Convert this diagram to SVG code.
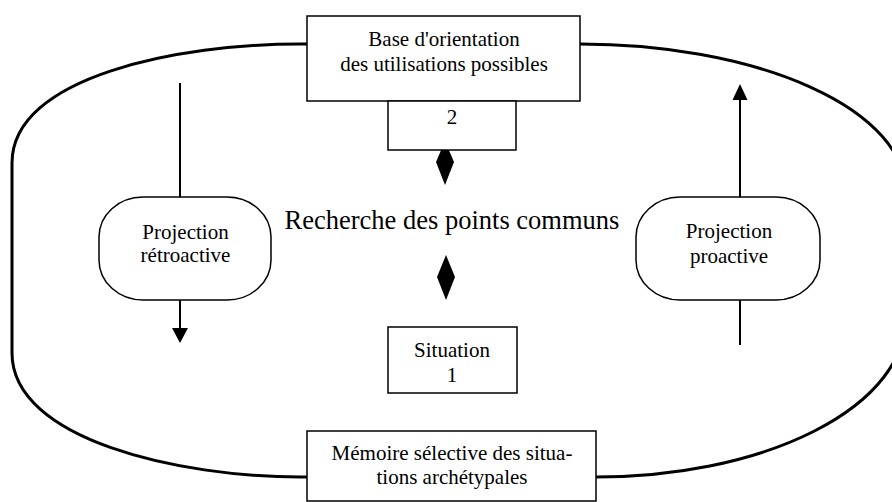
<svg xmlns="http://www.w3.org/2000/svg" width="892" height="502" viewBox="0 0 892 502">
<style>
text{font-family:"Liberation Serif","Times New Roman",serif;fill:#000;text-anchor:middle}
.t{font-size:21px}
.big{font-size:26.5px}
.box{fill:#fff;stroke:#000;stroke-width:1.5}
.loop{fill:none;stroke:#000;stroke-width:3}
.ln{fill:none;stroke:#000;stroke-width:2}
.head{fill:#000}
</style>
<rect width="892" height="502" fill="#fff"/>
<g id="connectors">
<path class="loop" d="M307 44 L300 44 C180 44 12 76 12 163 L12 353 C12 440 180 477 300 477 L307 477"/>
<path class="loop" d="M580 44 A325 146 0 0 1 905 190 L905 320 A309 157 0 0 1 596 477"/>
<line class="ln" x1="180" y1="83" x2="180" y2="197"/>
<line class="ln" x1="180" y1="300" x2="180" y2="330"/>
<polygon class="head" points="172,328 188,328 180,343"/>
<line class="ln" x1="740" y1="345" x2="740" y2="300"/>
<line class="ln" x1="740" y1="197" x2="740" y2="98"/>
<polygon class="head" points="732.5,100 747.5,100 740,84"/>
<polygon class="head" points="445,141 454,162 445,185 436,162"/>
<polygon class="head" points="446,255 455,277 446,300 437,277"/>
</g>
<g id="base">
<rect class="box" x="307" y="16" width="273" height="85"/>
<text class="t" x="444" y="46">Base d'orientation</text>
<text class="t" x="444" y="71">des utilisations possibles</text>
</g>
<g id="box2">
<rect class="box" x="388" y="101" width="128" height="49"/>
<text class="t" x="452" y="124">2</text>
</g>
<g id="recherche">
<text class="big" x="452" y="229">Recherche des points communs</text>
</g>
<g id="retro">
<rect class="box" x="99" y="197" width="172" height="103" rx="44" ry="40"/>
<text class="t" x="185.5" y="239">Projection</text>
<text class="t" x="185.5" y="262">rétroactive</text>
</g>
<g id="pro">
<rect class="box" x="636" y="197" width="184" height="103" rx="44" ry="40"/>
<text class="t" x="729" y="238">Projection</text>
<text class="t" x="729" y="263">proactive</text>
</g>
<g id="situation">
<rect class="box" x="388" y="327" width="129" height="66"/>
<text class="t" x="452" y="357">Situation</text>
<text class="t" x="452" y="382">1</text>
</g>
<g id="memoire">
<rect class="box" x="307" y="431" width="289" height="70"/>
<text class="t" x="452" y="460">Mémoire sélective des situa-</text>
<text class="t" x="452" y="484">tions archétypales</text>
</g>
</svg>
